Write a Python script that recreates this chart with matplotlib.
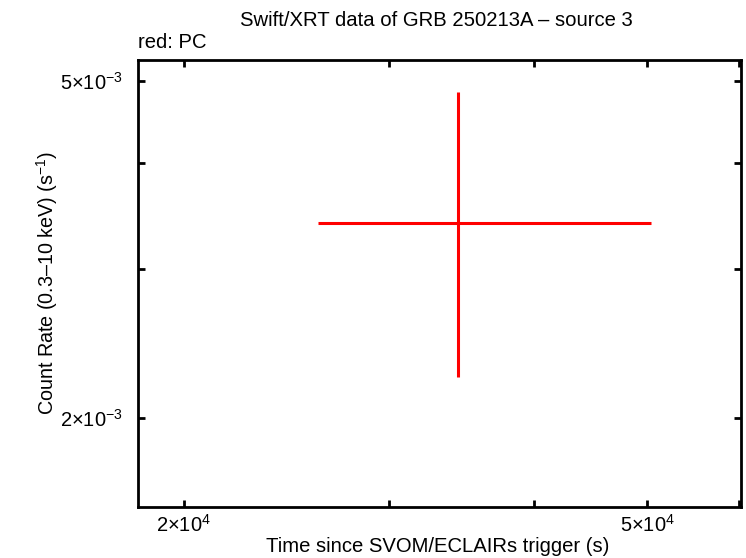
import matplotlib
matplotlib.use("Agg")
import matplotlib.pyplot as plt
from matplotlib.ticker import FixedLocator, FixedFormatter, NullLocator

# Data
time = [3.44e4]
time_lo = [2.608e4]
time_hi = [5.04e4]
rate = [3.40e-3]
rate_lo = [2.236e-3]
rate_hi = [4.85e-3]

xticks = [2e4, 3e4, 4e4, 5e4, 6e4]
xticklabels = [r"$2{\times}10^{4}$", "", "", r"$5{\times}10^{4}$", ""]
yticks = [2e-3, 3e-3, 4e-3, 5e-3]
yticklabels = [r"$2{\times}10^{-3}$", "", "", r"$5{\times}10^{-3}$"]

fam = ["Liberation Sans", "DejaVu Sans"]
plt.rcParams["font.family"] = fam
plt.rcParams["mathtext.fontset"] = "custom"
plt.rcParams["mathtext.rm"] = "Liberation Sans"
plt.rcParams["mathtext.it"] = "Liberation Sans"

fig = plt.figure(figsize=(7.46, 5.58), dpi=100)
ax = fig.add_axes([138/746, 1-507/558, (741-138)/746, (507-60)/558])

xerr = [[t - l for t, l in zip(time, time_lo)], [h - t for t, h in zip(time, time_hi)]]
yerr = [[r - l for r, l in zip(rate, rate_lo)], [h - r for r, h in zip(rate, rate_hi)]]
ax.errorbar(time, rate, xerr=xerr, yerr=yerr, fmt="none", ecolor="#ff0000", elinewidth=2.2, capsize=0)

ax.set_xscale("log")
ax.set_yscale("log")
ax.set_xlim(1.826e4, 6.02e4)
ax.set_ylim(1.57e-3, 5.29e-3)

ax.xaxis.set_major_locator(FixedLocator(xticks))
ax.xaxis.set_major_formatter(FixedFormatter(xticklabels))
ax.xaxis.set_minor_locator(NullLocator())
ax.yaxis.set_major_locator(FixedLocator(yticks))
ax.yaxis.set_major_formatter(FixedFormatter(yticklabels))
ax.yaxis.set_minor_locator(NullLocator())

ax.tick_params(direction="in", length=5, width=2, top=True, right=True, labelsize=14.5)
ax.tick_params(axis="y", pad=11)
ax.tick_params(axis="x", pad=5)
for s in ax.spines.values():
    s.set_linewidth(2)

ax.set_xlabel("Time since SVOM/ECLAIRs trigger (s)", fontsize=14.6)
ax.xaxis.set_label_coords((438-138)/603, -(547-507)/447)
ax.set_ylabel("Count Rate (0.3\u201310 keV) (s$^{-1}$)", fontsize=14.2)
ax.yaxis.set_label_coords((47-138)/603, (507-283)/447)
ax.xaxis.label.set_va("center")
ax.yaxis.label.set_va("center")
fig.text(436/746, 1-20/558, "Swift/XRT data of GRB 250213A \u2013 source 3", ha="center", va="center", fontsize=14.6)
fig.text(138/746, 1-43/558, "red: PC", ha="left", va="center", fontsize=14.6)

fig.savefig("out.png", dpi=100)
